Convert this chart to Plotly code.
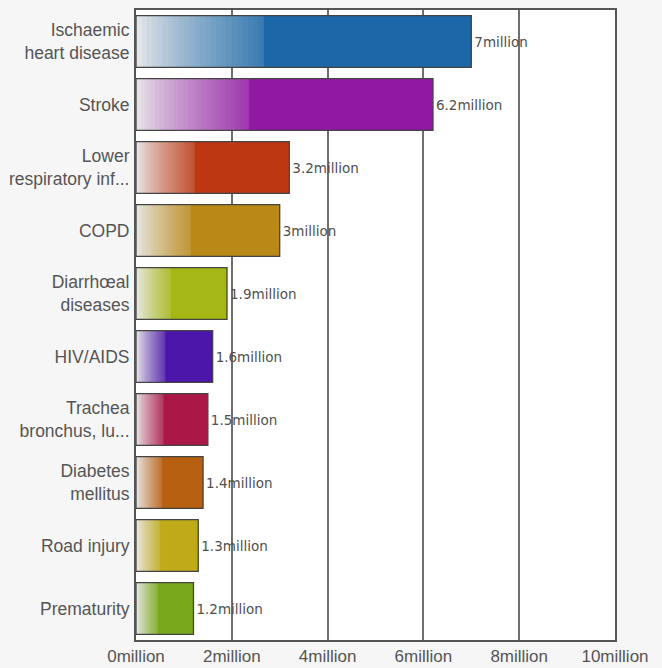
import plotly.graph_objects as go

categories = ["Ischaemic<br>heart disease", "Stroke", "Lower<br>respiratory inf...", "COPD",
              "Diarrhœal<br>diseases", "HIV/AIDS", "Trachea<br>bronchus, lu...",
              "Diabetes<br>mellitus", "Road injury", "Prematurity"]
values = [7.0, 6.2, 3.2, 3.0, 1.9, 1.6, 1.5, 1.4, 1.3, 1.2]
value_labels = ["7million", "6.2million", "3.2million", "3million", "1.9million",
                "1.6million", "1.5million", "1.4million", "1.3million", "1.2million"]
colors = ["#1b67a8", "#9118a2", "#bd3812", "#b98816", "#a4b714",
          "#4b16a9", "#ab1848", "#b86012", "#bfaa1a", "#79a81a"]
tick_vals = [0, 2, 4, 6, 8, 10]
tick_text = ["0million", "2million", "4million", "6million", "8million", "10million"]

GRAD_FRAC = 0.38
N_STEPS = 24
START = (234, 234, 234)


def hex2rgb(h):
    h = h.lstrip("#")
    return tuple(int(h[i:i + 2], 16) for i in (0, 2, 4))


def mix(c, t):
    a = hex2rgb(c)
    return "rgb(%d,%d,%d)" % tuple(round(START[i] + (a[i] - START[i]) * t) for i in range(3))


fig = go.Figure()
# solid base bars
fig.add_trace(go.Bar(y=categories, x=values, orientation="h",
                     marker=dict(color=colors, line=dict(width=0)),
                     hoverinfo="skip", showlegend=False))
# gradient overlay steps (longest first, lightest last)
for j in range(N_STEPS, 0, -1):
    p = (j - 0.5) / N_STEPS
    t = 0.85 * p ** 0.8
    fig.add_trace(go.Bar(y=categories, x=[v * GRAD_FRAC * j / N_STEPS for v in values],
                         orientation="h",
                         marker=dict(color=[mix(c, t) for c in colors],
                                     line=dict(width=0.6, color=[mix(c, t) for c in colors])),
                         hoverinfo="skip", showlegend=False))
# outline + value labels
fig.add_trace(go.Bar(y=categories, x=values, orientation="h",
                     marker=dict(color="rgba(0,0,0,0)", line=dict(color="#444444", width=1.3)),
                     text=value_labels, textposition="outside", cliponaxis=False,
                     textfont=dict(family="DejaVu Sans", size=13.5, color="#505050"),
                     showlegend=False))

fig.update_layout(
    width=662, height=668,
    barmode="overlay", bargap=0.18,
    paper_bgcolor="#f6f6f6", plot_bgcolor="#ffffff",
    margin=dict(l=136, r=47, t=10, b=28),
    font=dict(family="Liberation Sans, Arial, sans-serif", color="#555555", size=17),
    xaxis=dict(range=[0, 10], tickvals=tick_vals, ticktext=tick_text, automargin=False,
               showgrid=True, gridcolor="#6f6f6f", gridwidth=1.5, zeroline=False,
               showline=True, mirror=True, linecolor="#555555", linewidth=2,
               ticks="", tickfont=dict(size=17, color="#555555"), ticklabelstandoff=0),
    yaxis=dict(autorange="reversed", showgrid=False, ticks="", automargin=False,
               showline=True, mirror=True, linecolor="#555555", linewidth=2,
               tickfont=dict(size=17.5, color="#555555"), ticklabelstandoff=1),
)

fig.write_html("out.html")
